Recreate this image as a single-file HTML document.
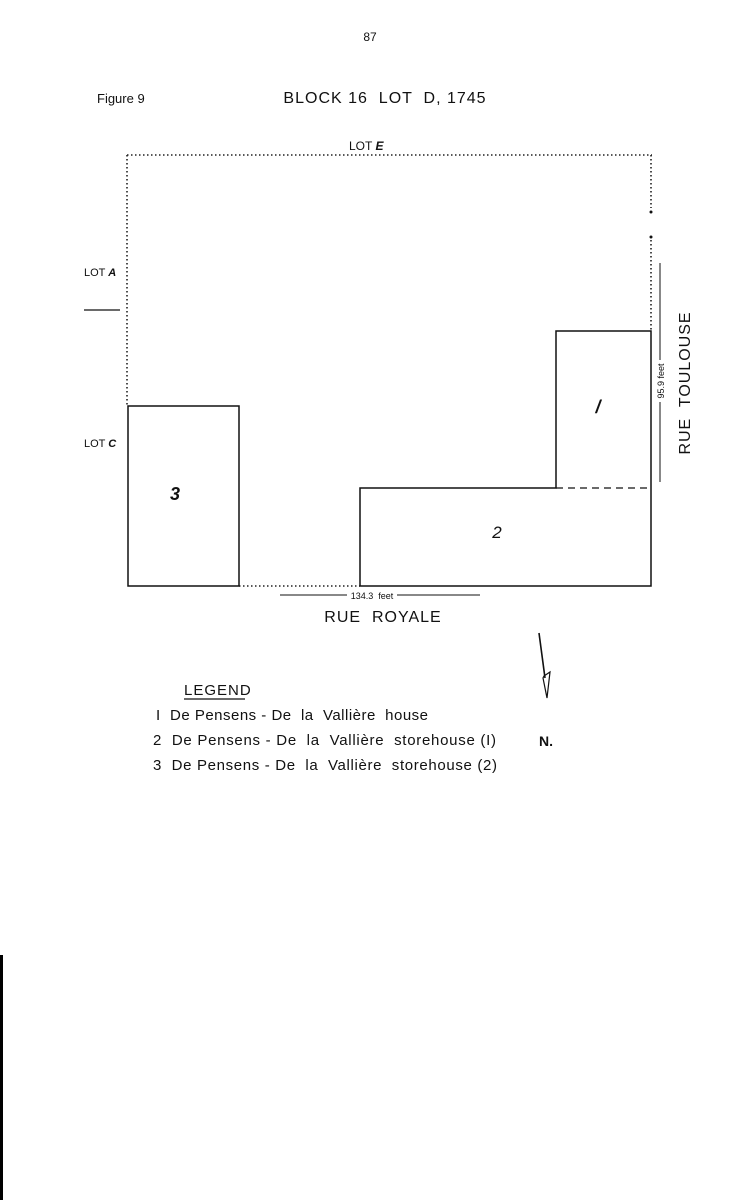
<!DOCTYPE html>
<html><head><meta charset="utf-8"><style>
html,body{margin:0;padding:0;background:#fff;}
svg{display:block;}
text{font-family:"Liberation Sans",sans-serif;fill:#111;white-space:pre;}
</style></head><body>
<svg width="745" height="1200" viewBox="0 0 745 1200" xmlns="http://www.w3.org/2000/svg" xml:space="preserve">
<rect x="0" y="955" width="3" height="245" fill="#000"/>
<text x="370" y="41" font-size="12" text-anchor="middle">87</text>
<text x="97" y="103" font-size="13">Figure 9</text>
<text x="385" y="103" font-size="16" text-anchor="middle" letter-spacing="1">BLOCK 16  LOT  D, 1745</text>
<text x="349" y="150" font-size="12">LOT <tspan font-weight="bold" font-style="italic">E</tspan></text>
<g stroke="#222" stroke-width="1.6" stroke-dasharray="1.5 2.5" fill="none">
<line x1="127" y1="155" x2="652" y2="155"/>
<line x1="127" y1="155" x2="127" y2="406"/>
<line x1="651" y1="155" x2="651" y2="208"/>
<line x1="651" y1="240" x2="651" y2="330"/>
<line x1="239" y1="586" x2="360" y2="586"/>
</g>
<circle cx="651" cy="212" r="1.5" fill="#111"/>
<circle cx="651" cy="237" r="1.5" fill="#111"/>
<text x="84" y="276" font-size="11">LOT <tspan font-weight="bold" font-style="italic">A</tspan></text>
<line x1="84" y1="310" x2="120" y2="310" stroke="#111" stroke-width="1.2"/>
<text x="84" y="447" font-size="11">LOT <tspan font-weight="bold" font-style="italic">C</tspan></text>
<g stroke="#111" stroke-width="1.5" fill="none">
<rect x="128" y="406" width="111" height="180"/>
<polygon points="360,586 360,488 556,488 556,331 651,331 651,586"/>
</g>
<line x1="556" y1="488" x2="651" y2="488" stroke="#111" stroke-width="1.3" stroke-dasharray="7 5"/>
<text x="175" y="500" font-size="18" font-weight="bold" font-style="italic" text-anchor="middle">3</text>
<text x="497" y="538" font-size="17" font-style="italic" text-anchor="middle">2</text>
<text x="598" y="413" font-size="18" font-weight="bold" font-style="italic" text-anchor="middle">/</text>
<g stroke="#111" stroke-width="1">
<line x1="280" y1="595" x2="347" y2="595"/>
<line x1="397" y1="595" x2="480" y2="595"/>
<line x1="660" y1="263" x2="660" y2="360"/>
<line x1="660" y1="402" x2="660" y2="482"/>
</g>
<text x="372" y="599" font-size="9" text-anchor="middle">134.3  feet</text>
<text transform="translate(664,381) rotate(-90)" font-size="9" text-anchor="middle">95.9 feet</text>
<text transform="translate(690,383) rotate(-90)" font-size="16" text-anchor="middle" letter-spacing="1">RUE  TOULOUSE</text>
<text x="383" y="622" font-size="16" text-anchor="middle" letter-spacing="1">RUE  ROYALE</text>
<path d="M539,633 L545,678" stroke="#111" stroke-width="1.6" fill="none"/>
<path d="M544,676 L550,672 L547,698 L543,678 Z" stroke="#111" stroke-width="1.2" fill="none"/>
<text x="546" y="746" font-size="14" font-weight="bold" text-anchor="middle">N.</text>
<text x="184" y="695" font-size="15" letter-spacing="1">LEGEND</text>
<line x1="184" y1="699" x2="245" y2="699" stroke="#111" stroke-width="1.2"/>
<text x="156" y="720" font-size="15" textLength="272" lengthAdjust="spacing">I  De Pensens - De  la  Vallière  house</text>
<text x="153" y="745" font-size="15" textLength="343" lengthAdjust="spacing">2  De Pensens - De  la  Vallière  storehouse (I)</text>
<text x="153" y="770" font-size="15" textLength="344" lengthAdjust="spacing">3  De Pensens - De  la  Vallière  storehouse (2)</text>
</svg>
</body></html>
